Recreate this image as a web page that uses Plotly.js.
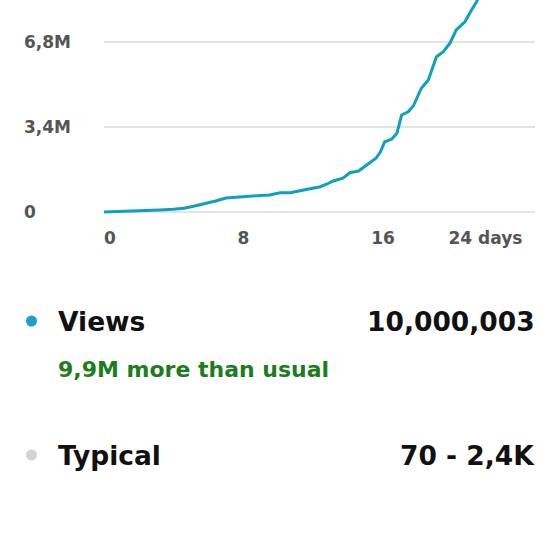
<!DOCTYPE html>
<html>
<head>
<meta charset="utf-8">
<script src="https://cdn.plot.ly/plotly-3.0.1.min.js"></script>
<style>html,body{margin:0;padding:0;background:#fff;}#chart{width:560px;height:560px;}</style>
</head>
<body>
<div id="chart"></div>
<script>
// Cumulative views by day
const days = [0, 1, 2, 2.45, 3.2, 3.97, 4.6, 5.2, 5.7, 6.4, 7.0, 7.5, 8.0, 8.56, 9.0, 9.5, 10.1, 10.67, 11.24, 11.8, 12.4, 12.8, 13.15, 13.7, 14.1, 14.6, 15.15, 15.6, 15.85, 16.1, 16.5, 16.8, 17.07, 17.45, 17.74, 18.2, 18.6, 19.07, 19.46, 19.84, 20.2, 20.7, 21.08, 21.37, 21.8, 22.3];
const views = [0, 20000, 40000, 50000, 80000, 110000, 150000, 240000, 320000, 440000, 560000, 590000, 610000, 650000, 660000, 680000, 770000, 770000, 850000, 920000, 1010000, 1120000, 1240000, 1350000, 1570000, 1640000, 1920000, 2150000, 2400000, 2810000, 2910000, 3150000, 3880000, 4010000, 4240000, 4950000, 5280000, 6210000, 6410000, 6750000, 7280000, 7610000, 8080000, 8410000, 9200000, 10000000];

const yTickVals = [0, 3400000, 6800000];
const yTickText = ["0", "3,4M", "6,8M"];
const xTickMid = [8, 16];
const xTickMidText = ["8", "16"];
const xTickFirst = [0];
const xTickFirstText = ["0"];
const xTickLast = [24];
const xTickLastText = ["24 days"];

const legendNames = ["Views", "Typical"];
const legendValues = ["10,000,003", "70 - 2,4K"];
const legendColors = ["#1aa1cf", "#d3d3d3"];
const viewsNote = "9,9M more than usual";

const W = 560, H = 560;
const px = v => v / W;
const py = v => 1 - v / H;

const xRange = [0, 24.72];
const yRange = [-200000, 8480000];
const FAM = "'DejaVu Sans', sans-serif";
const tickFont = {family: FAM, size: 17, color: "#555555", weight: 700};
const bigFont = {family: FAM, size: 26.5, color: "#111111", weight: 700};

const traces = [
  {x: days, y: views, type: "scatter", mode: "lines", xaxis: "x", yaxis: "y",
   line: {color: "#0f9fc4", width: 3}, hoverinfo: "skip", showlegend: false},
  {x: [], y: [], type: "scatter", mode: "lines", xaxis: "x2", yaxis: "y", showlegend: false},
  {x: [], y: [], type: "scatter", mode: "lines", xaxis: "x3", yaxis: "y", showlegend: false},
  {x: [], y: [], type: "scatter", mode: "lines", xaxis: "x", yaxis: "y2", showlegend: false}
];

const xCommon = {range: xRange, showgrid: false, zeroline: false, showline: false, ticks: "",
  tickfont: tickFont, fixedrange: true, ticklabelstandoff: 9};

const layout = {
  width: W, height: H,
  margin: {l: 0, r: 0, t: 0, b: 0},
  paper_bgcolor: "#ffffff", plot_bgcolor: "#ffffff",
  showlegend: false,
  xaxis: Object.assign({}, xCommon, {domain: [px(104), px(535)], anchor: "y",
    tickmode: "array", tickvals: xTickMid, ticktext: xTickMidText}),
  xaxis2: Object.assign({}, xCommon, {domain: [px(104), px(535)], anchor: "y", overlaying: "x",
    tickmode: "array", tickvals: xTickFirst, ticktext: xTickFirstText, ticklabelposition: "outside right"}),
  xaxis3: Object.assign({}, xCommon, {domain: [px(104), px(535)], anchor: "y", overlaying: "x",
    tickmode: "array", tickvals: xTickLast, ticktext: xTickLastText, ticklabelposition: "outside left"}),
  yaxis: {domain: [py(217), 1], range: yRange, anchor: "x", showgrid: true, gridcolor: "#e3e3e3", gridwidth: 1.5,
    zeroline: false, showline: false, ticks: "", tickmode: "array", tickvals: yTickVals,
    showticklabels: false, fixedrange: true},
  yaxis2: {range: yRange, overlaying: "y", anchor: "free", position: px(23), side: "right",
    showgrid: false, zeroline: false, showline: false, ticks: "", tickmode: "array",
    tickvals: yTickVals, ticktext: yTickText, tickfont: tickFont, fixedrange: true},
  shapes: [
    {type: "circle", xref: "paper", yref: "paper", x0: px(26), x1: px(37), y0: py(326.5), y1: py(315.5),
     fillcolor: legendColors[0], line: {width: 0}},
    {type: "circle", xref: "paper", yref: "paper", x0: px(26), x1: px(37), y0: py(460.5), y1: py(449.5),
     fillcolor: legendColors[1], line: {width: 0}}
  ],
  annotations: [
    {text: legendNames[0], xref: "paper", yref: "paper", x: px(56), y: py(321), xanchor: "left", yanchor: "middle",
     showarrow: false, font: bigFont},
    {text: legendValues[0], xref: "paper", yref: "paper", x: px(537), y: py(321), xanchor: "right", yanchor: "middle",
     showarrow: false, font: bigFont},
    {text: viewsNote, xref: "paper", yref: "paper", x: px(56), y: py(369), xanchor: "left", yanchor: "middle",
     showarrow: false, font: {family: FAM, size: 22, color: "#1b7d1b", weight: 700}},
    {text: legendNames[1], xref: "paper", yref: "paper", x: px(56), y: py(455), xanchor: "left", yanchor: "middle",
     showarrow: false, font: bigFont},
    {text: legendValues[1], xref: "paper", yref: "paper", x: px(537), y: py(455), xanchor: "right", yanchor: "middle",
     showarrow: false, font: bigFont}
  ]
};

Plotly.newPlot("chart", traces, layout, {staticPlot: true, displayModeBar: false});
</script>
</body>
</html>
